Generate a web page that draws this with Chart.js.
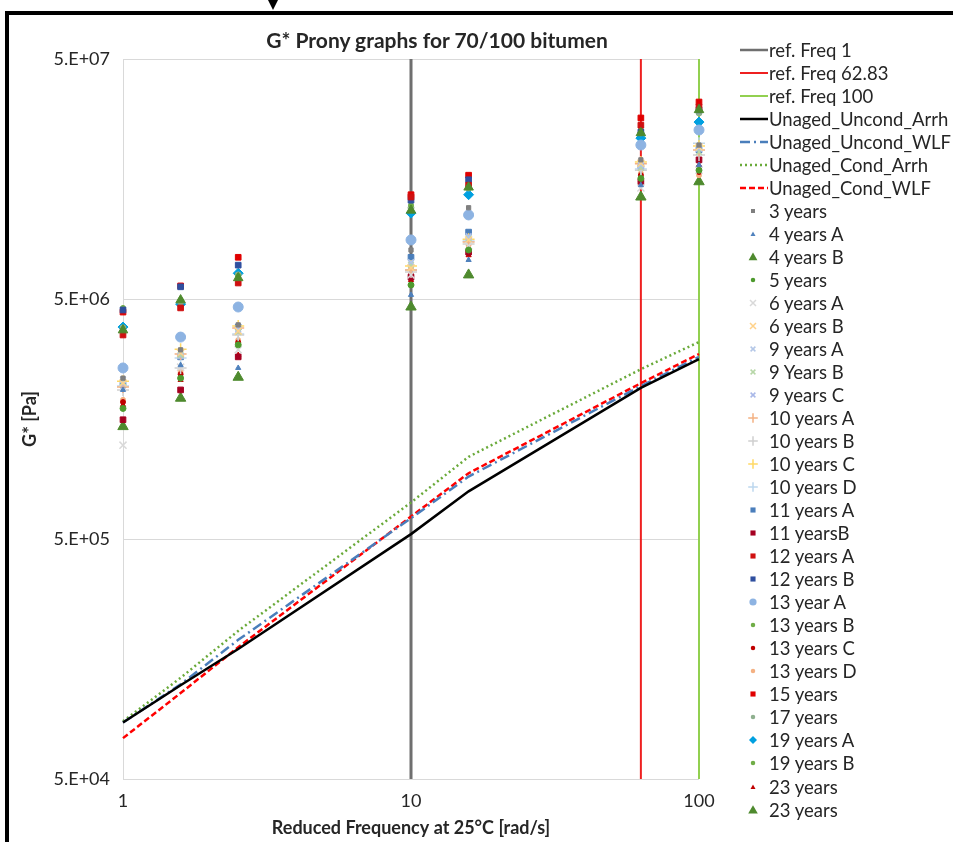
<!DOCTYPE html>
<html>
<head>
<meta charset="utf-8">
<script src="https://cdn.jsdelivr.net/npm/chart.js@4.4.1/dist/chart.umd.min.js"></script>
<style>
  body { margin: 0; background: #fff; font-family: Lato, sans-serif; }
  #wrap { position: relative; width: 953px; height: 842px; overflow: hidden; }
  #frame { position: absolute; left: 5px; top: 11px; width: 960px; height: 840px;
           border-top: 4px solid #000; border-left: 4px solid #000; box-sizing: border-box; }
  #arrow { position: absolute; left: 268px; top: 0; width: 0; height: 0;
           border-left: 5px solid transparent; border-right: 5px solid transparent; border-top: 10px solid #000; }
  #chartBox { position: absolute; left: 0; top: 0; width: 953px; height: 842px; }
  #title { position: absolute; left: 0; top: 27px; width: 874px; text-align: center;
           font-weight: bold; font-size: 21px; line-height: 26px; color: #262626; }
  #legend { position: absolute; left: 738px; top: 38.5px; }
  .item { height: 23.03px; display: flex; align-items: center; font-size: 18.5px; color: #262626; white-space: nowrap; }
  .item svg { width: 30px; height: 16px; flex: none; margin-right: 1px; }
</style>
</head>
<body>
<div id="wrap">
  <div id="frame"></div>
  <div id="arrow"></div>
  <div id="chartBox"><canvas id="chart"></canvas></div>
  <div id="title">G* Prony graphs for 70/100 bitumen</div>
  <div id="legend"></div>
</div>
<script>
// reduced frequency, rad/s
const freqs = [1, 1.585, 2.512, 10, 15.85, 62.83, 100];
const xTicks = [1, 10, 100];
const yTicks = [5e4, 5e5, 5e6, 5e7];
const yTickLabels = ['5.E+04', '5.E+05', '5.E+06', '5.E+07'];

// reference frequency lines
const refNames = ['ref. Freq 1', 'ref. Freq 62.83', 'ref. Freq 100'];
const refFreqs = [10, 62.83, 100];

// prony master curves (G*, Pa)
const uncondArrh = [8.6e4, 1.23e5, 1.74e5, 5.24e5, 7.9e5, 2.13e6, 2.81e6];
const uncondWLF  = [8.6e4, 1.24e5, 1.9e5, 6.1e5, 9.1e5, 2.17e6, 2.87e6];
const condArrh   = [8.7e4, 1.32e5, 2.07e5, 7.1e5, 1.1e6, 2.55e6, 3.31e6];
const condWLF    = [7.4e4, 1.14e5, 1.77e5, 6.2e5, 9.4e5, 2.23e6, 2.95e6];

// measured G* of aged samples (Pa)
const y3   = [2.34e6, 3.07e6, 3.9e6, 8.0e6, 1.2e7, 1.9e7, 2.19e7];
const y4A  = [2.09e6, 2.65e6, 2.58e6, 5.2e6, 7.27e6, 1.49e7, 1.81e7];
const y4B  = [3.71e6, 4.95e6, 6.12e6, 1.17e7, 1.46e7, 2.46e7, 3.07e7];
const y5   = [1.75e6, 2.34e6, 3.22e6, 5.72e6, 8.0e6, 1.59e7, 1.72e7];
const y6A  = [1.23e6, 2.6e6, 3.07e6, 6.3e6, 8.32e6, 1.45e7, 1.72e7];
const y6B  = [2.23e6, 2.98e6, 3.68e6, 6.73e6, 8.81e6, 1.84e7, 2.15e7];
const y9A  = [2.3e6, 3.01e6, 3.71e6, 7.13e6, 9.05e6, 1.81e7, 2.13e7];
const y9B  = [2.25e6, 2.92e6, 3.64e6, 6.92e6, 8.97e6, 1.76e7, 2.05e7];
const y9C  = [2.21e6, 2.89e6, 3.75e6, 7.06e6, 9.14e6, 1.79e7, 2.11e7];
const y10A = [2.15e6, 2.95e6, 3.79e6, 6.6e6, 8.64e6, 1.83e7, 2.09e7];
const y10B = [2.09e6, 2.58e6, 3.54e6, 6.48e6, 8.48e6, 1.72e7, 1.99e7];
const y10C = [2.27e6, 3.09e6, 3.86e6, 6.86e6, 8.88e6, 1.86e7, 2.17e7];
const y10D = [2.17e6, 2.84e6, 3.57e6, 6.6e6, 8.72e6, 1.74e7, 2.23e7];
const y11A = [2.19e6, 2.87e6, 3.82e6, 7.46e6, 9.5e6, 1.77e7, 2.09e7];
const y11B = [1.57e6, 2.09e6, 2.87e6, 6.17e6, 7.84e6, 1.54e7, 1.9e7];
const y12A = [3.54e6, 4.59e6, 5.83e6, 1.33e7, 1.49e7, 2.65e7, 3.16e7];
const y12B = [4.5e6, 5.62e6, 6.92e6, 1.29e7, 1.57e7, 2.48e7, 3.07e7];
const y13A = [2.58e6, 3.47e6, 4.63e6, 8.81e6, 1.12e7, 2.19e7, 2.53e7];
const y13B = [4.59e6, 4.95e6, 6.24e6, 1.23e7, 1.49e7, 2.53e7, 3.13e7];
const y13C = [1.86e6, 2.43e6, 3.3e6, 6.35e6, 8.0e6, 1.64e7, 1.69e7];
const y13D = [1.9e6, 2.48e6, 3.37e6, 6.73e6, 8.4e6, 1.67e7, 1.64e7];
const y15  = [4.41e6, 5.67e6, 7.46e6, 1.36e7, 1.64e7, 2.84e7, 3.31e7];
const y17  = [3.79e6, 4.86e6, 6.3e6, 1.2e7, 1.45e7, 2.46e7, 2.98e7];
const y19A = [3.82e6, 4.76e6, 6.4e6, 1.14e7, 1.36e7, 2.34e7, 2.73e7];
const y19B = [3.71e6, 4.86e6, 6.12e6, 1.17e7, 1.45e7, 2.43e7, 3.01e7];
const y23a = [1.81e6, 2.3e6, 2.92e6, 6.0e6, 7.61e6, 1.57e7, 1.81e7];
const y23b = [1.47e6, 1.93e6, 2.36e6, 4.63e6, 6.3e6, 1.33e7, 1.54e7];

const sampleNames = ['3 years', '4 years A', '4 years B', '5 years', '6 years A', '6 years B',
  '9 years A', '9 Years B', '9 years C', '10 years A', '10 years B', '10 years C', '10 years D',
  '11 years A', '11 yearsB', '12 years A', '12 years B', '13 year A', '13 years B', '13 years C',
  '13 years D', '15 years', '17 years', '19 years A', '19 years B', '23 years', '23 years'];
const sampleValues = [y3, y4A, y4B, y5, y6A, y6B, y9A, y9B, y9C, y10A, y10B, y10C, y10D,
  y11A, y11B, y12A, y12B, y13A, y13B, y13C, y13D, y15, y17, y19A, y19B, y23a, y23b];

// marker look per sample: [pointStyle, colour, radius]
const sampleStyles = [
  ['rect', '#7f7f7f', 3], ['triangle', '#4f81bd', 3], ['triangle', '#4e8a2e', 5.5], ['circle', '#4e9a2e', 3],
  ['crossRot', '#d9d9d9', 5], ['crossRot', '#ffd28a', 5], ['crossRot', '#b4c7e7', 4], ['crossRot', '#b7d7a8', 4],
  ['crossRot', '#a9b8e8', 4], ['cross', '#f4b183', 6], ['cross', '#d0d0d0', 6], ['cross', '#ffd966', 6],
  ['cross', '#bdd7ee', 6], ['rect', '#4a7ebb', 4], ['rect', '#a50021', 4], ['rect', '#d01010', 4],
  ['rect', '#2f4f9f', 4], ['circle', '#8db3e2', 5], ['circle', '#70ad47', 2.5], ['circle', '#c00000', 2.5],
  ['circle', '#f4b183', 2.5], ['rect', '#e00000', 4], ['circle', '#8fb08f', 3], ['rectRot', '#00a0e0', 5],
  ['circle', '#70ad47', 2.5], ['triangle', '#c00000', 3], ['triangle', '#4e8a2e', 6]
];

const toPts = vals => vals.map((v, i) => ({ x: freqs[i], y: v }));

const datasets = [];
const refColors = ['#6f6f6f', '#ee2020', '#92d050'];
const refWidths = [3, 2, 2];
refFreqs.forEach((f, i) => {
  datasets.push({
    label: refNames[i],
    data: [{ x: f, y: yTicks[0] }, { x: f, y: yTicks[yTicks.length - 1] }],
    showLine: true, pointRadius: 0, borderColor: refColors[i], borderWidth: refWidths[i],
    order: 3, clip: false, kind: 'line'
  });
});

const curves = [
  ['Unaged_Uncond_Arrh', uncondArrh, '#000000', []],
  ['Unaged_Uncond_WLF', uncondWLF, '#4a7ebb', [10, 4, 2, 4]],
  ['Unaged_Cond_Arrh', condArrh, '#6aaa3a', [2, 3]],
  ['Unaged_Cond_WLF', condWLF, '#ff0000', [6, 3]]
];
curves.forEach(c => {
  datasets.push({
    label: c[0], data: toPts(c[1]), showLine: true, pointRadius: 0,
    borderColor: c[2], borderWidth: 2.5, borderDash: c[3], order: 2, clip: false, kind: 'line'
  });
});

sampleNames.forEach((n, i) => {
  const st = sampleStyles[i];
  const open = st[0] === 'cross' || st[0] === 'crossRot';
  datasets.push({
    label: n, data: toPts(sampleValues[i]),
    pointStyle: st[0], pointRadius: st[2], borderWidth: open ? 1.5 : 1,
    backgroundColor: st[1], borderColor: st[1], order: 1, clip: false, kind: 'point'
  });
});

const font = { family: 'Lato', size: 18 };
const titleFont = { family: 'Lato', size: 18, weight: 'bold' };
const chart = new Chart(document.getElementById('chart'), {
  type: 'scatter',
  data: { datasets },
  options: {
    responsive: true,
    maintainAspectRatio: false,
    animation: false,
    events: [],
    layout: { padding: { left: 0, right: 254, top: 59, bottom: 0 } },
    plugins: { legend: { display: false }, tooltip: { enabled: false } },
    scales: {
      x: {
        type: 'logarithmic', min: 1, max: 100,
        afterBuildTicks: s => { s.ticks = xTicks.map(v => ({ value: v })); },
        afterFit: s => { s.height = 63; },
        ticks: { callback: v => String(v), font, color: '#262626', padding: 11, maxRotation: 0, autoSkip: false },
        grid: { color: '#d9d9d9', drawTicks: false, lineWidth: 1 },
        border: { display: false },
        title: { display: true, text: 'Reduced Frequency at 25°C [rad/s]', color: '#262626',
          font: titleFont, padding: { top: 0, bottom: 3 } }
      },
      y: {
        type: 'logarithmic', min: 5e4, max: 5e7,
        afterBuildTicks: s => { s.ticks = yTicks.map(v => ({ value: v })); },
        afterFit: s => { s.width = 123; },
        ticks: { callback: v => yTickLabels[yTicks.indexOf(v)], font, color: '#262626', padding: 13, autoSkip: false },
        grid: { color: '#d9d9d9', drawTicks: false, lineWidth: 1 },
        border: { display: false },
        title: { display: true, text: 'G* [Pa]', color: '#262626',
          font: titleFont, padding: { top: 19, bottom: 0 } }
      }
    }
  }
});

// legend as html, built from the chart's datasets
function icon(ds) {
  const c = ds.borderColor;
  let s = '';
  if (ds.kind === 'line') {
    const dash = ds.borderDash && ds.borderDash.length ? ' stroke-dasharray="' + ds.borderDash.join(' ') + '"' : '';
    s = '<line x1="2" y1="8" x2="30" y2="8" stroke="' + c + '" stroke-width="' + Math.min(ds.borderWidth, 2.5) + '"' + dash + '/>';
  } else {
    const r = Math.max(2.5, ds.pointRadius * 0.8);
    const cx = 15, cy = 8;
    switch (ds.pointStyle) {
      case 'rect': s = '<rect x="' + (cx - r * 0.8) + '" y="' + (cy - r * 0.8) + '" width="' + r * 1.6 + '" height="' + r * 1.6 + '" fill="' + c + '"/>'; break;
      case 'circle': s = '<circle cx="' + cx + '" cy="' + cy + '" r="' + r * 0.9 + '" fill="' + c + '"/>'; break;
      case 'triangle': s = '<polygon points="' + cx + ',' + (cy - r) + ' ' + (cx + r) + ',' + (cy + r * 0.75) + ' ' + (cx - r) + ',' + (cy + r * 0.75) + '" fill="' + c + '"/>'; break;
      case 'rectRot': s = '<polygon points="' + cx + ',' + (cy - r) + ' ' + (cx + r) + ',' + cy + ' ' + cx + ',' + (cy + r) + ' ' + (cx - r) + ',' + cy + '" fill="' + c + '"/>'; break;
      case 'cross': s = '<path d="M' + (cx - r) + ' ' + cy + 'H' + (cx + r) + 'M' + cx + ' ' + (cy - r) + 'V' + (cy + r) + '" stroke="' + c + '" stroke-width="1.5"/>'; break;
      case 'crossRot': { const d = r * 0.75; s = '<path d="M' + (cx - d) + ' ' + (cy - d) + 'L' + (cx + d) + ' ' + (cy + d) + 'M' + (cx + d) + ' ' + (cy - d) + 'L' + (cx - d) + ' ' + (cy + d) + '" stroke="' + c + '" stroke-width="1.5"/>'; break; }
    }
  }
  return '<svg viewBox="0 0 30 16">' + s + '</svg>';
}
const legendEl = document.getElementById('legend');
chart.data.datasets.forEach(ds => {
  const row = document.createElement('div');
  row.className = 'item';
  row.innerHTML = icon(ds) + '<span>' + ds.label + '</span>';
  legendEl.appendChild(row);
});
</script>
</body>
</html>
